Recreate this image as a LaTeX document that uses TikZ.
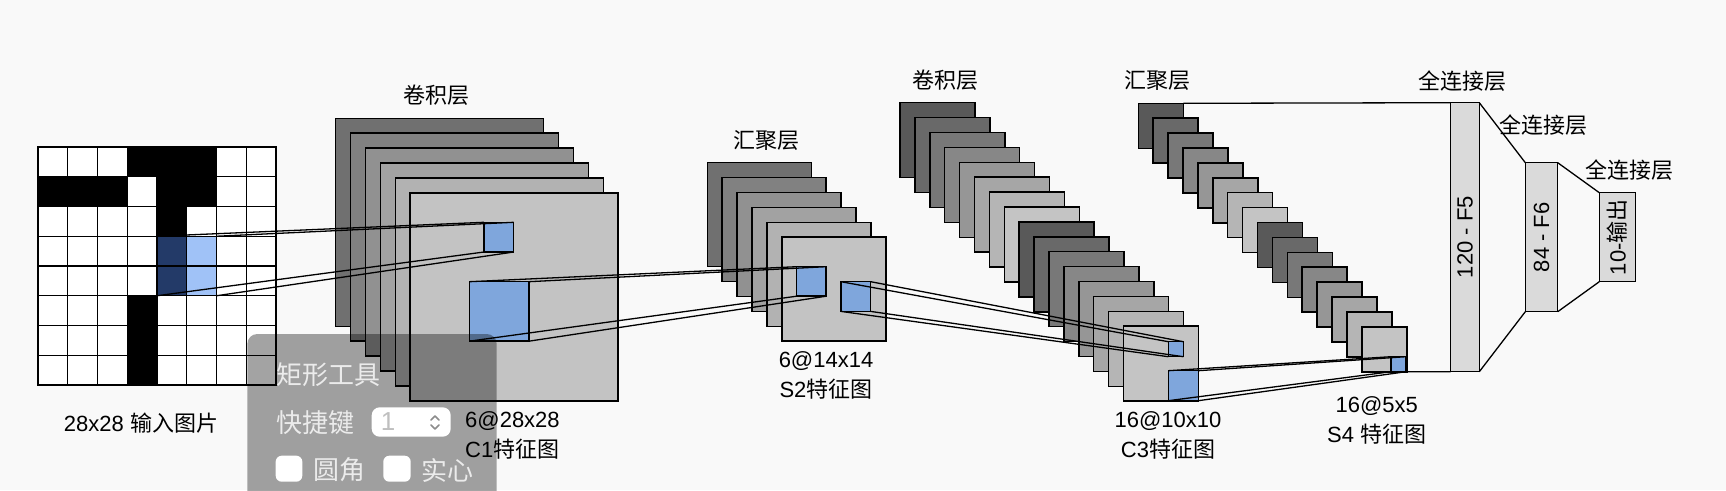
\documentclass[tikz,border=0pt]{standalone}
\usepackage{fontspec}
\setmainfont{Liberation Sans}
\newfontfamily\cjk{Noto Sans CJK SC}
\newcommand{\zhtext}[1]{{\cjk #1}}
\definecolor{patchblue}{RGB}{127,166,220}
\definecolor{darkblue}{RGB}{35,58,104}
\definecolor{lightblue}{RGB}{160,194,247}
\definecolor{fcgray}{RGB}{218,218,218}
\definecolor{bg}{RGB}{249,249,249}
\tikzset{
  fmap/.style={draw, line width=1.5pt, inner sep=0pt, outer sep=0pt, anchor=north west, minimum size=#1},
  patch/.style={fmap=#1, fill=patchblue},
  fc/.style={draw, line width=1.5pt, fill=fcgray, inner sep=0pt, outer sep=0pt, anchor=north west},
  link/.style={line width=1.3pt},
  lbl/.style={font=\fontsize{22}{30}\selectfont, inner sep=0pt},
  ui/.style={font=\fontsize{26}{30}\selectfont, text=white!92!black, inner sep=0pt},
}
\begin{document}
\begin{tikzpicture}[x=1pt, y=-1pt]
  \fill[bg] (0,0) rectangle (1726,490);
  \useasboundingbox (0,0) rectangle (1726,490);

  \fill[white] (38,147) rectangle (276,385);
  \foreach \c/\r in {3/0,4/0,5/0,0/1,1/1,2/1,4/1,5/1,4/2,3/5,3/6,3/7}
    \fill (38+29.75*\c, 147+29.75*\r) rectangle ++(29.75,29.75);
  \fill[darkblue] (157,236.25) rectangle ++(29.75,59.5);
  \fill[lightblue] (186.75,236.25) rectangle ++(29.75,59.5);
  \foreach \k in {0,...,8} {
    \draw[line width=1.3pt] (38+29.75*\k,147) -- ++(0,238);
    \draw[line width=1.3pt] (38,147+29.75*\k) -- ++(238,0);
  }
  \draw[line width=2pt] (38,147) rectangle (276,385);
  \node[minimum size=59.5pt, inner sep=0pt, outer sep=0pt, anchor=north west] (inpatch) at (157,236.25) {};

  \foreach \i in {0,...,5} {
    \pgfmathsetmacro\shade{56-6.5*\i}
    \node[fmap=208pt, fill=black!\shade] (c1-\i) at (335.7+14.9*\i, 118.3+14.9*\i) {};
  }
  \node[patch=29.7pt] (c1dst) at (484,222.3) {};
  \node[patch=59.5pt] (c1src) at (469.3,281.7) {};

  \foreach \i in {0,...,5} {
    \pgfmathsetmacro\shade{56-6.5*\i}
    \node[fmap=104pt, fill=black!\shade] (s2-\i) at (707.3+14.9*\i, 162.7+14.9*\i) {};
  }
  \node[patch=29.5pt] (s2dst) at (796.7,266.7) {};
  \node[patch=29.7pt] (s2src) at (841,281.7) {};

  \foreach \i in {0,...,15} {
    \pgfmathsetmacro\shade{65-6*mod(\i,8)}
    \node[fmap=75pt, fill=black!\shade] (c3-\i) at (900+14.9*\i, 102.7+14.9*\i) {};
  }
  \node[patch=15pt] (c3dst) at (1168.3,341.7) {};
  \node[patch=30pt] (c3src) at (1168.3,370.7) {};

  \foreach \i in {0,...,15} {
    \pgfmathsetmacro\shade{65-6*mod(\i,8)}
    \node[fmap=45pt, fill=black!\shade] (s4-\i) at (1138.3+14.9*\i, 103.3+14.9*\i) {};
  }
  \node[patch=15pt] (s4dst) at (1391,356.7) {};

  \foreach \a/\b in {inpatch/c1dst, c1src/s2dst, s2src/c3dst, c3src/s4dst}
    \foreach \k in {north west, north east, south west, south east}
      \draw[link] (\a.\k) -- (\b.\k);

  \node[fc, minimum width=28.6pt, minimum height=269pt] (f5) at (1450.7,102.7) {};
  \node[fc, minimum width=32.4pt, minimum height=149pt] (f6) at (1525.3,162.7) {};
  \node[fc, minimum width=36pt, minimum height=89pt] (out) at (1599.3,192.7) {};
  \draw[link] (s4-0.north east) -- (f5.north west);
  \draw[link] (s4-15.south east) -- (f5.south west);
  \draw[link] (f5.north east) -- (f6.north west);
  \draw[link] (f5.south east) -- (f6.south west);
  \draw[link] (f6.north east) -- (out.north west);
  \draw[link] (f6.south east) -- (out.south west);
  \node[lbl, rotate=90] (f5lbl) at (f5.center) {120 - F5};
  \node[lbl, rotate=90] (f6lbl) at (f6.center) {84 - F6};
  \node[lbl, rotate=90] (outlbl) at (out.center) {10-\zhtext{输出}};

  \node[lbl] (c1title) at (436.7,95.7) {\zhtext{卷积层}};
  \node[lbl] (s2title) at (766.7,140.7) {\zhtext{汇聚层}};
  \node[lbl] (c3title) at (945,80.7) {\zhtext{卷积层}};
  \node[lbl] (s4title) at (1157,80.7) {\zhtext{汇聚层}};
  \node[lbl] (f5title) at (1462,81) {\zhtext{全连接层}};
  \node[lbl] (f6title) at (1543,125) {\zhtext{全连接层}};
  \node[lbl] (outtitle) at (1629,170) {\zhtext{全连接层}};

  \node[lbl] (inlbl) at (141,423) {28x28 \zhtext{输入图片}};
  \node[lbl, align=left, anchor=west] (c1lbl) at (465,435) {6@28x28\\C1\zhtext{特征图}};
  \node[lbl, align=center] (s2lbl) at (826,375) {6@14x14\\S2\zhtext{特征图}};
  \node[lbl, align=center] (c3lbl) at (1168,435) {16@10x10\\C3\zhtext{特征图}};
  \node[lbl, align=center] (s4lbl) at (1376.7,420) {16@5x5\\S4 \zhtext{特征图}};

  \fill[black, opacity=0.36, rounded corners=10pt] (247.3,334) rectangle (496.7,510);
  \node[ui, anchor=west] (uititle) at (276,375) {\zhtext{矩形工具}};
  \node[ui, anchor=west] (uikey) at (276,423) {\zhtext{快捷键}};
  \fill[white, rounded corners=8pt] (371.7,407.3) rectangle (450.7,436.7);
  \node[ui, text=black!25] (uinum) at (388,422) {1};
  \draw[black!45, line width=1.5pt, line cap=round, line join=round] (431,420) -- (435,416) -- (439,420) (431,425) -- (435,429) -- (439,425);
  \fill[white, rounded corners=6pt] (275.7,455.7) rectangle (302.3,481.7);
  \fill[white, rounded corners=6pt] (383.3,455.7) rectangle (410.7,481.7);
  \node[ui, anchor=west] (uiround) at (313,470) {\zhtext{圆角}};
  \node[ui, anchor=west] (uisolid) at (421.7,470) {\zhtext{实心}};
\end{tikzpicture}
\end{document}
